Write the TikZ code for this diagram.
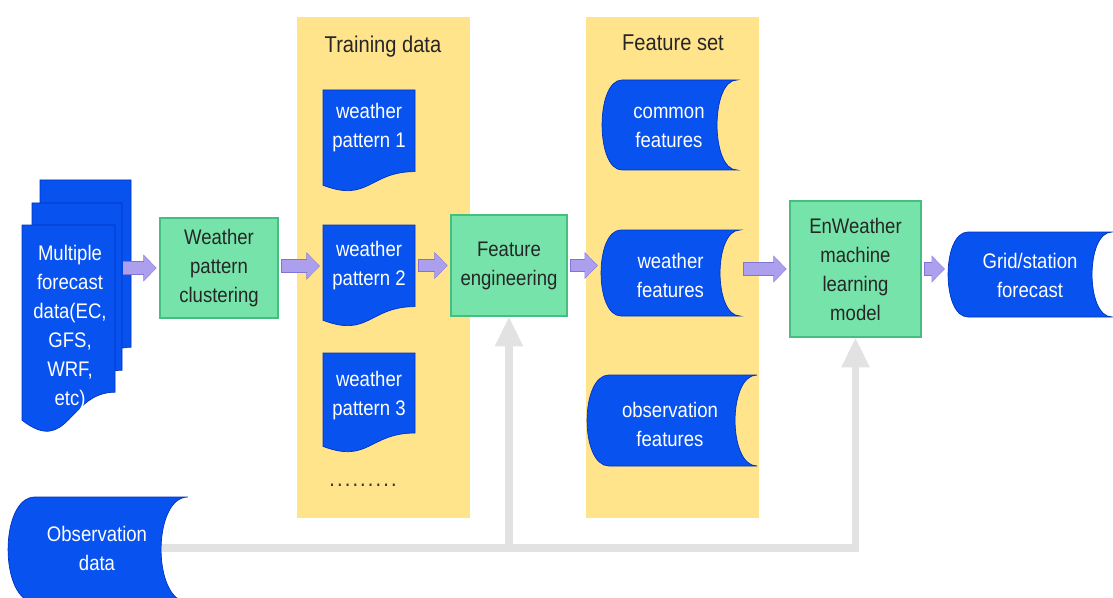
\documentclass[tikz,border=0pt]{standalone}
\usepackage{fontspec}
\setmainfont{Liberation Sans}[FakeStretch=0.88]
\usetikzlibrary{arrows.meta,backgrounds}

\definecolor{panelyellow}{RGB}{255,228,140}
\definecolor{shapeblue}{RGB}{8,82,240}
\definecolor{shapeedge}{RGB}{0,50,190}
\definecolor{boxgreen}{RGB}{118,228,170}
\definecolor{boxedge}{RGB}{70,190,130}
\definecolor{arrowfill}{RGB}{172,160,238}
\definecolor{arrowedge}{RGB}{130,115,215}
\definecolor{flowgray}{RGB}{226,226,226}

% document shape: x1, y1, x2, height
\newcommand{\docshape}[4]{%
  \path[docfill] (#1,#2) -- (#3,#2) -- (#3,{#2+0.8*#4})
    .. controls ({(#1+#3)/2},{#2+0.8*#4}) and ({(#1+#3)/2},{#2+1.107*#4}) .. (#1,{#2+0.934*#4}) -- cycle;}
% stored data shape: x1, y1, x2, y2, radius
\newcommand{\storeshape}[5]{%
  \path[docfill] ({#1+#5},#2) -- (#3,#2)
    .. controls ({#3-1.33*#5},#2) and ({#3-1.33*#5},#4) .. (#3,#4) -- ({#1+#5},#4)
    .. controls ({#1-0.33*#5},#4) and ({#1-0.33*#5},#2) .. ({#1+#5},#2) -- cycle;}

\begin{document}
\begin{tikzpicture}[x=0.02cm, y=-0.02cm, font=\fontsize{12}{16.5}\selectfont,
    docfill/.style={fill=shapeblue, draw=shapeedge, line width=0.4pt},
    bluetext/.style={text=white, align=center, inner sep=0pt},
    greenbox/.style={fill=boxgreen, draw=boxedge, line width=0.6pt, align=center, text=black!85, inner sep=0pt},
    paneltitle/.style={font=\fontsize{13}{16}\selectfont, text=black!85},
    flowarrow/.style={draw=arrowfill, line width=6.4pt, shorten <=2pt, shorten >=2pt,
        -{Triangle[length=6.8pt, width=13.5pt]},
        preaction={draw=arrowedge, line width=7.4pt, shorten <=1.6pt, shorten >=1.6pt,
            -{Triangle[length=7.6pt, width=15pt]}}},
    feedline/.style={draw=flowgray, line width=4.5pt, -{Triangle[length=17pt, width=15pt]}}]

    \useasboundingbox (0,0) rectangle (1113,598);

    % panels
    \fill[panelyellow] (297,17) rectangle (470,518);
    \fill[panelyellow] (586,17) rectangle (759,518);
    \node[paneltitle] (traintitle) at (383,47) {Training data};
    \node[paneltitle] (feattitle) at (673,43) {Feature set};

    % blue shapes
    \docshape{40}{180}{131}{209}
    \docshape{32}{203}{122}{209}
    \docshape{22}{225}{115}{209}
    \docshape{323}{90}{415}{102}
    \docshape{323}{225}{415}{102}
    \docshape{323}{353}{415}{100}
    \storeshape{602}{80}{737}{170}{20}
    \storeshape{601}{230}{740}{316}{20}
    \storeshape{587}{375}{757}{466}{22}
    \storeshape{948}{232}{1112}{317}{20}
    \storeshape{8}{497}{188}{602}{27}

    % texts on blue shapes
    \node[bluetext, minimum width=1.98cm] (fcst) at (70,328) {Multiple\\forecast\\data(EC,\\GFS,\\WRF,\\etc)};
    \node[bluetext, minimum width=1.84cm] (wp1) at (369,128) {weather\\pattern 1};
    \node[bluetext, minimum width=1.84cm] (wp2) at (369,266) {weather\\pattern 2};
    \node[bluetext, minimum width=1.84cm] (wp3) at (369,396) {weather\\pattern 3};
    \node[text=black!80, font=\fontsize{13}{13}\selectfont] (dots) at (363,485)
        {.\kern1.2pt.\kern1.2pt.\kern1.2pt.\kern1.2pt.\kern1.2pt.\kern1.2pt.\kern1.2pt.\kern1.2pt.};
    \node[bluetext, minimum width=2.7cm] (cf) at (669,127) {common\\features};
    \node[bluetext, minimum width=2.78cm] (wf) at (670.5,275) {weather\\features};
    \node[bluetext, minimum width=3.4cm] (of) at (670,424) {observation\\features};
    \node[bluetext, minimum width=3.28cm] (grid) at (1030,275) {Grid/station\\forecast};
    \node[bluetext, minimum width=3.6cm] (obs) at (97,548) {Observation\\data};

    % processing boxes
    \node[greenbox, minimum width=2.36cm, minimum height=2cm] (clus) at (219,268) {Weather\\pattern\\clustering};
    \node[greenbox, minimum width=2.32cm, minimum height=2.02cm] (fe) at (509,265.5) {Feature\\engineering};
    \node[greenbox, minimum width=2.62cm, minimum height=2.72cm] (ml) at (855.5,269) {EnWeather\\machine\\learning\\model};

    % main flow
    \draw[flowarrow] (clus.west -| fcst.east) -- (clus.west);
    \draw[flowarrow] (wp2.west -| clus.east) -- (wp2.west);
    \draw[flowarrow] (fe.west -| wp2.east) -- (fe.west);
    \draw[flowarrow] (fe.east) -- (fe.east -| wf.west);
    \draw[flowarrow] (ml.west -| wf.east) -- (ml.west);
    \draw[flowarrow] (ml.east) -- (ml.east -| grid.west);

    % observation feed
    \begin{scope}[on background layer]
        \draw[feedline] (obs.center) -| (ml.south);
        \draw[feedline] (obs.center -| fe.south) -- (fe.south);
    \end{scope}
\end{tikzpicture}
\end{document}
